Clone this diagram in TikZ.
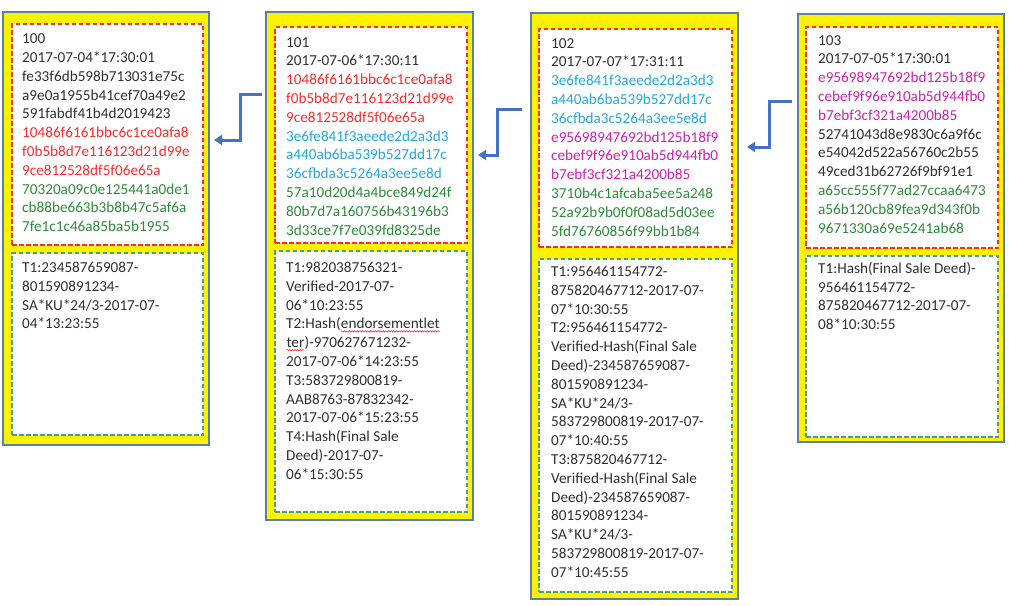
\documentclass[tikz,border=0pt]{standalone}
\usepackage{fontspec}
\setmainfont{Carlito}
\usetikzlibrary{decorations.pathmorphing,arrows.meta}
\definecolor{blk}{HTML}{303030}
\definecolor{hred}{HTML}{FF2A2A}
\definecolor{hcyan}{HTML}{22A8E0}
\definecolor{hmag}{HTML}{D020B0}
\definecolor{hgreen}{HTML}{2E8B3A}
\definecolor{frameblue}{HTML}{5A7FA8}
\definecolor{tborder}{HTML}{489A9C}
\definecolor{arrowblue}{HTML}{4472C4}
\newcommand\wavy[1]{\tikz[baseline=(w.base)]{\node[inner sep=0pt,outer sep=0pt](w){#1};\draw[hred,line width=0.6pt,decorate,decoration={snake,amplitude=0.7pt,segment length=2.6pt}]([yshift=-2.4pt]w.base west)--([yshift=-2.4pt]w.base east);}}
\newcommand\R[1]{\textcolor{hred}{#1}}
\newcommand\C[1]{\textcolor{hcyan}{#1}}
\newcommand\M[1]{\textcolor{hmag}{#1}}
\newcommand\G[1]{\textcolor{hgreen}{#1}}
\tikzset{
  blockbox/.style={draw=frameblue,line width=1.3pt,fill=yellow,anchor=north west,inner sep=0pt,outer sep=0pt},
  hashbox/.style={draw=hred,line width=1.4pt,dash pattern=on 4.5pt off 2.5pt,fill=white,anchor=north west,inner sep=0pt,outer sep=0pt},
  txbox/.style={draw=tborder,line width=1.4pt,dash pattern=on 4.5pt off 2.5pt,fill=white,anchor=north west,inner sep=0pt,outer sep=0pt},
  txt/.style={anchor=north west,inner sep=0pt,align=left,font=\fontsize{15.2}{18.8}\selectfont,text=blk},
  link/.style={draw=arrowblue,line width=3pt,-{Triangle[length=8pt,width=10pt]}}
}
\begin{document}
\begin{tikzpicture}[x=1pt,y=-1pt]
\useasboundingbox (0,0) rectangle (1024,605);
% block 100
\node[blockbox,minimum width=206pt,minimum height=433pt] (b1) at (3,12) {};
\node[hashbox,minimum width=191pt,minimum height=221pt] (h1) at (12,24) {};
\node[txbox,minimum width=191pt,minimum height=182pt] (t1) at (12,253) {};
\node[txt] (h1t) at (22,33.6) {100\\2017-07-04*17:30:01\\fe33f6db598b713031e75c\\a9e0a1955b41cef70a49e2\\591fabdf41b4d2019423\\\R{10486f6161bbc6c1ce0afa8}\\\R{f0b5b8d7e116123d21d99e}\\\R{9ce812528df5f06e65a}\\\G{70320a09c0e125441a0de1}\\\G{cb88be663b3b8b47c5af6a}\\\G{7fe1c1c46a85ba5b1955}};
\node[txt] (t1t) at (22,262) {T1:234587659087-\\801590891234-\\SA*KU*24/3-2017-07-\\04*13:23:55};
% block 101
\node[blockbox,minimum width=207pt,minimum height=508pt] (b2) at (266,12) {};
\node[hashbox,minimum width=192pt,minimum height=216pt] (h2) at (275,27) {};
\node[txbox,minimum width=192pt,minimum height=261pt] (t2) at (275,251) {};
\node[txt] (h2t) at (286,37) {101\\2017-07-06*17:30:11\\\R{10486f6161bbc6c1ce0afa8}\\\R{f0b5b8d7e116123d21d99e}\\\R{9ce812528df5f06e65a}\\\C{3e6fe841f3aeede2d2a3d3}\\\C{a440ab6ba539b527dd17c}\\\C{36cfbda3c5264a3ee5e8d}\\\G{57a10d20d4a4bce849d24f}\\\G{80b7d7a160756b43196b3}\\\G{3d33ce7f7e039fd8325de}};
\node[txt] (t2t) at (286,262) {T1:982038756321-\\Verified-2017-07-\\06*10:23:55\\T2:Hash(\wavy{endorsementlet}\\\wavy{ter})-970627671232-\\2017-07-06*14:23:55\\T3:583729800819-\\AAB8763-87832342-\\2017-07-06*15:23:55\\T4:Hash(Final Sale\\Deed)-2017-07-\\06*15:30:55};
% block 102
\node[blockbox,minimum width=207pt,minimum height=586pt] (b3) at (531,13) {};
\node[hashbox,minimum width=193pt,minimum height=218pt] (h3) at (539,29) {};
\node[txbox,minimum width=193pt,minimum height=333pt] (t3) at (539,259) {};
\node[txt] (h3t) at (551,38) {102\\2017-07-07*17:31:11\\\C{3e6fe841f3aeede2d2a3d3}\\\C{a440ab6ba539b527dd17c}\\\C{36cfbda3c5264a3ee5e8d}\\\M{e95698947692bd125b18f9}\\\M{cebef9f96e910ab5d944fb0}\\\M{b7ebf3cf321a4200b85}\\\G{3710b4c1afcaba5ee5a248}\\\G{52a92b9b0f0f08ad5d03ee}\\\G{5fd76760856f99bb1b84}};
\node[txt] (t3t) at (551,266) {T1:956461154772-\\875820467712-2017-07-\\07*10:30:55\\T2:956461154772-\\Verified-Hash(Final Sale\\Deed)-234587659087-\\801590891234-\\SA*KU*24/3-\\583729800819-2017-07-\\07*10:40:55\\T3:875820467712-\\Verified-Hash(Final Sale\\Deed)-234587659087-\\801590891234-\\SA*KU*24/3-\\583729800819-2017-07-\\07*10:45:55};
% block 103
\node[blockbox,minimum width=206pt,minimum height=428pt] (b4) at (798,14) {};
\node[hashbox,minimum width=192pt,minimum height=221pt] (h4) at (806,27) {};
\node[txbox,minimum width=192pt,minimum height=181pt] (t4) at (806,256) {};
\node[txt] (h4t) at (818,35) {103\\2017-07-05*17:30:01\\\M{e95698947692bd125b18f9}\\\M{cebef9f96e910ab5d944fb0}\\\M{b7ebf3cf321a4200b85}\\52741043d8e9830c6a9f6c\\e54042d522a56760c2b55\\49ced31b62726f9bf91e1\\\G{a65cc555f77ad27ccaa6473}\\\G{a56b120cb89fea9d343f0b}\\\G{9671330a69e5241ab68}};
\node[txt] (t4t) at (818,262) {T1:Hash(Final Sale Deed)-\\956461154772-\\875820467712-2017-07-\\08*10:30:55};
% links
\coordinate (a1s) at (262,94);
\coordinate (a1e) at (214,140);
\coordinate (a2s) at (522,109);
\coordinate (a2e) at (478,155);
\coordinate (a3s) at (792,101);
\coordinate (a3e) at (747,147);
\draw[link] (a1s) -- ++(-22,0) |- (a1e);
\draw[link] (a2s) -- ++(-25,0) |- (a2e);
\draw[link] (a3s) -- ++(-23,0) |- (a3e);
\end{tikzpicture}
\end{document}
